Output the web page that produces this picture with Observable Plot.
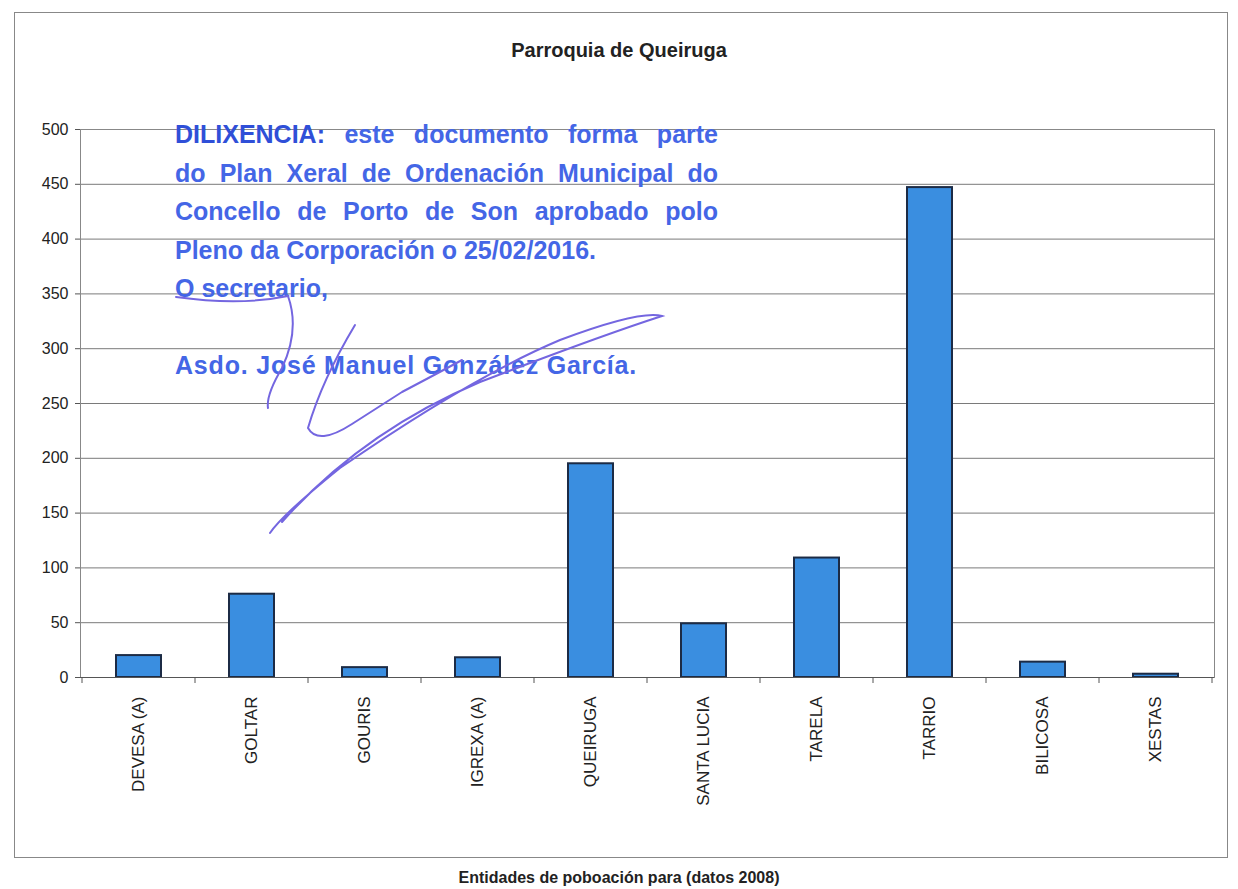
<!DOCTYPE html>
<html><head><meta charset="utf-8">
<script src="https://cdn.jsdelivr.net/npm/d3@7"></script>
<script src="https://cdn.jsdelivr.net/npm/@observablehq/plot@0.6"></script>
<style>
body{margin:0;background:#fff;font-family:"Liberation Sans",Arial,sans-serif;}
#wrap{position:relative;width:1238px;height:889px;overflow:hidden;background:#fff}
#frame{position:absolute;left:14px;top:12px;width:1214px;height:846px;border:1px solid #888;box-sizing:border-box}
#title{position:absolute;left:0;width:1238px;top:39px;text-align:center;font-weight:bold;font-size:20px;color:#222}
#caption{position:absolute;left:0;width:1238px;top:869px;text-align:center;font-weight:bold;font-size:16px;color:#222}
#chart{position:absolute;left:0;top:0}
#stamp{position:absolute;left:175px;top:115px;color:#4466e6;font-weight:bold;font-size:25px;line-height:38.5px}
#stamp div{white-space:nowrap}
#stamp .j{width:543px;text-align:justify;text-align-last:justify;white-space:normal}
#scribble{position:absolute;left:0;top:0;pointer-events:none}
</style></head>
<body><div id="wrap">
<div id="frame"></div>
<div id="title">Parroquia de Queiruga</div>
<div id="chart"></div>
<div id="stamp">
<div class="j"><span style="color:#2f4fd8">DILIXENCIA:</span> este documento forma parte</div>
<div class="j">do Plan Xeral de Ordenación Municipal do</div>
<div class="j">Concello de Porto de Son aprobado polo</div>
<div style="letter-spacing:0px">Pleno da Corporación o 25/02/2016.</div>
<div>O secretario,</div>
<div>&nbsp;</div>
<div style="letter-spacing:0.8px">Asdo. José Manuel González García.</div>
</div>
<svg id="scribble" width="1238" height="889">
<g fill="none" stroke="#7466e0" stroke-width="2" stroke-linecap="round">
<path d="M176 297 Q 240 306 288 296 Q 300 330 282 368 Q 266 395 268 408"/>
<path d="M355 325 Q 322 380 308 428 Q 318 446 352 424 L 402 392 Q 440 372 462 360"/>
<path d="M270 533 Q 282 515 340 468 Q 470 378 560 340 Q 640 310 662 316 Q 600 336 480 382 Q 362 432 282 522"/>
</g>
</svg>
<div id="caption">Entidades de poboación para (datos 2008)</div>
</div>
<script>
const categories = ["DEVESA (A)","GOLTAR","GOURIS","IGREXA (A)","QUEIRUGA","SANTA LUCIA","TARELA","TARRIO","BILICOSA","XESTAS"];
const poboacion = [20, 76, 9, 18, 195, 49, 109, 447, 14, 3];
const yTicks = [0,50,100,150,200,250,300,350,400,450,500];

const data = categories.map((c,i)=>({entidade:c, poboacion:poboacion[i]}));

const boundaryTicks = (index, scales, values, dims) => {
  const x = scales.x;
  const bw = x.bandwidth();
  const step = x.step();
  const y0 = scales.y(0);
  const g = d3.create("svg:g").attr("stroke","#555").attr("stroke-width",1);
  const edges = categories.map(c => x(c) + bw/2 - step/2);
  edges.push(x(categories[categories.length-1]) + bw/2 + step/2);
  for (const e of edges) g.append("line").attr("x1",e).attr("x2",e).attr("y1",y0).attr("y2",y0+6);
  return g.node();
};

const chart = Plot.plot({
  width:1238, height:860,
  marginLeft:80, marginRight:24, marginTop:129, marginBottom:183,
  x:{domain:categories, paddingInner:0.6, paddingOuter:0.3, label:null},
  y:{domain:[0,500], label:null},
  style:{fontFamily:"'Liberation Sans', Arial, sans-serif", fontSize:"16px", color:"#222", background:"transparent"},
  marks:[
    Plot.gridY(yTicks,{stroke:"#7a7a7a", strokeOpacity:1}),
    Plot.frame({stroke:"#888"}),
    Plot.barY(data,{x:"entidade", y:"poboacion", fill:"#3a8ee0", stroke:"#1c2b45", strokeWidth:2}),
    Plot.ruleY([0],{stroke:"#555"}),
    Plot.axisY(yTicks,{tickSize:5, tickPadding:7, fontSize:16, stroke:"#555"}),
    Plot.axisX({tickRotate:-90, tickSize:0, tickPadding:19, fontSize:17}),
    boundaryTicks
  ]
});
document.getElementById("chart").appendChild(chart);
</script>
</body></html>
